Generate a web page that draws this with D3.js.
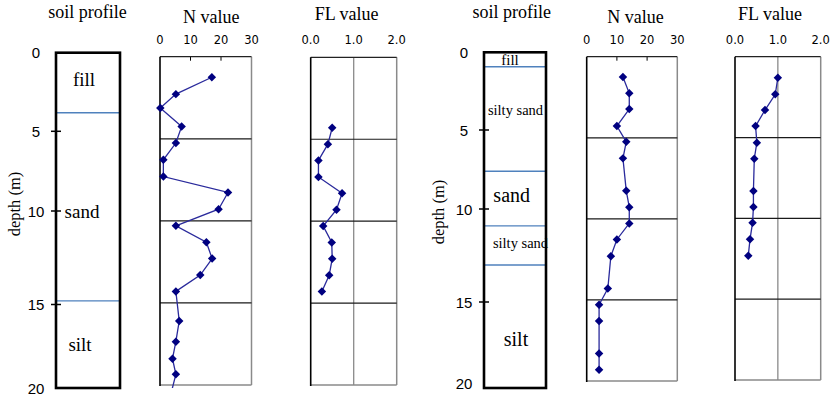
<!DOCTYPE html>
<html><head><meta charset="utf-8">
<script src="https://cdn.jsdelivr.net/npm/d3@7"></script>
<style>body{margin:0;background:#fff}svg{display:block}</style>
</head><body>
<svg id="c" width="830" height="395"></svg>
<script>
// ---------- DATA ----------
const depthTicks = [0, 5, 10, 15, 20];
const nTicks = [0, 10, 20, 30];
const flTicks = [0, 1, 2];
const flTickLabels = ["0.0", "1.0", "2.0"];
const titles = ["soil profile", "N value", "FL value"];
const depthLabel = "depth (m)";

// left site soil profile
const leftLayerNames = ["fill", "sand", "silt"];
const leftLayerLabelDepths = [1.7, 10.0, 17.4];
const leftBoundaries = [3.82, 14.81];
// right site soil profile
const rightLayerNames = ["fill", "silty sand", "sand", "silty sand", "silt"];
const rightLayerLabelDepths = [0.5, 3.7, 9.1, 11.83, 17.3];
const rightBoundaries = [0.93, 7.61, 10.91, 13.01];

// left site N value
const leftNDepth = [1.25, 2.28, 3.13, 4.25, 5.26, 6.28, 7.3, 8.27, 9.29, 10.3, 11.3, 12.3, 13.3, 14.3, 16.1, 17.36, 18.4, 19.35, 20.6];
const leftNValue = [17.0, 5.2, 0.1, 7.1, 5.2, 1.1, 1.1, 22.3, 19.2, 5.2, 15.2, 17.1, 13.2, 5.2, 6.3, 5.2, 4.1, 5.2, 3.5];
// left site FL value
const leftFLDepth = [4.3, 5.3, 6.3, 7.3, 8.3, 9.3, 10.3, 11.3, 12.3, 13.3, 14.3];
const leftFLValue = [0.50, 0.40, 0.18, 0.18, 0.73, 0.60, 0.29, 0.49, 0.50, 0.43, 0.26];
// right site N value
const rightNDepth = [1.25, 2.26, 3.23, 4.28, 5.25, 6.27, 8.27, 9.28, 10.28, 11.27, 12.3, 14.3, 15.3, 16.3, 18.3, 19.3];
const rightNValue = [12.0, 14.1, 14.1, 10.0, 13.1, 12.0, 13.1, 14.1, 14.1, 10.0, 8.0, 7.0, 4.1, 4.1, 4.1, 4.1];
// right site FL value
const rightFLDepth = [1.3, 2.33, 3.3, 4.29, 5.32, 6.31, 8.31, 9.3, 10.27, 11.3, 12.31];
const rightFLValue = [1.00, 0.94, 0.70, 0.48, 0.51, 0.45, 0.43, 0.43, 0.41, 0.35, 0.31];

// ---------- DRAWING ----------
const svg = d3.select("#c");
const serif = "'Liberation Serif','Times New Roman',serif";
const sans = "'Liberation Sans',Arial,sans-serif";
const boundaryColor = "#4f81bd";

function profile(cfg, names, labelDepths, boundaries) {
  const y = d3.scaleLinear().domain(depthTicks).range(cfg.yRange);
  const g = svg.append("g");
  g.append("text").attr("x", cfg.titleX).attr("y", 17.5).attr("text-anchor", "middle")
    .style("font-family", serif).style("font-size", "18px").text(titles[0]);
  g.append("text").attr("transform", `translate(${cfg.depthX},${cfg.depthY}) rotate(-90)`)
    .attr("text-anchor", "middle").attr("dominant-baseline", "central")
    .style("font-family", serif).style("font-size", "16.5px").text(depthLabel);
  g.selectAll("text.tl").data(depthTicks).join("text").attr("class", "tl")
    .attr("x", cfg.tickLabelX).attr("y", d => y(d)).attr("text-anchor", "middle")
    .attr("dominant-baseline", "central")
    .style("font-family", sans).style("font-size", "15px").text(d => d);
  g.selectAll("text.ll").data(names).join("text").attr("class", "ll")
    .attr("x", (d, i) => cfg.box[0] + cfg.labelX[i]).attr("y", (d, i) => y(labelDepths[i]))
    .attr("text-anchor", "middle").attr("dominant-baseline", "central")
    .style("font-family", serif).style("font-size", (d, i) => cfg.labelSize[i] + "px").text(d => d);
  g.selectAll("line.b").data(boundaries).join("line").attr("class", "b")
    .attr("x1", cfg.box[0]).attr("x2", cfg.box[1]).attr("y1", d => y(d)).attr("y2", d => y(d))
    .attr("stroke", boundaryColor).attr("stroke-width", 1.3);
  g.append("rect").attr("x", cfg.box[0]).attr("y", y(0))
    .attr("width", cfg.box[1] - cfg.box[0]).attr("height", cfg.boxBottom - y(0))
    .attr("fill", "none").attr("stroke", "#000").attr("stroke-width", 2.6);
  g.selectAll("line.t").data(depthTicks.filter(d => d > 0 && d < 20)).join("line").attr("class", "t")
    .attr("x1", cfg.box[0] - 5).attr("x2", cfg.box[0] + 5).attr("y1", d => y(d)).attr("y2", d => y(d))
    .attr("stroke", "#000").attr("stroke-width", 1.5);
}

function dataPanel(cfg, ticks, tickLabels, title, depth, values) {
  const x = d3.scaleLinear().domain([ticks[0], ticks[ticks.length - 1]]).range(cfg.xRange);
  const y = d3.scaleLinear().domain([0, 20]).range(cfg.yRange);
  const g = svg.append("g");
  const [x0, x1] = cfg.xRange, [y0, y1] = cfg.yRange;
  g.append("text").attr("x", cfg.titleX).attr("y", cfg.titleY).attr("text-anchor", "middle")
    .style("font-family", serif).style("font-size", "18px").text(title);
  g.selectAll("text.tk").data(ticks).join("text").attr("class", "tk")
    .attr("x", d => x(d)).attr("y", 44).attr("text-anchor", "middle")
    .style("font-family", "'DejaVu Sans',sans-serif").style("font-size", "11.5px")
    .text((d, i) => tickLabels[i]);
  ticks.slice(1, -1).forEach(t => {
    if (cfg.grid) {
      g.append("line").attr("x1", x(t)).attr("x2", x(t)).attr("y1", y0).attr("y2", y1)
        .attr("stroke", "#8a8a8a").attr("stroke-width", 1.3);
    } else {
      g.append("line").attr("x1", x(t)).attr("x2", x(t)).attr("y1", y0).attr("y2", y0 + 4)
        .attr("stroke", "#000").attr("stroke-width", 1);
    }
  });
  g.append("line").attr("x1", x1).attr("x2", x1).attr("y1", y0).attr("y2", y1)
    .attr("stroke", "#8a8a8a").attr("stroke-width", 1.5);
  g.append("line").attr("x1", x0).attr("x2", x1).attr("y1", y1).attr("y2", y1)
    .attr("stroke", "#8a8a8a").attr("stroke-width", 1.5);
  g.selectAll("line.h").data(depthTicks.filter(d => d > 0 && d < 20)).join("line").attr("class", "h")
    .attr("x1", x0).attr("x2", x1).attr("y1", d => y(d)).attr("y2", d => y(d))
    .attr("stroke", "#1a1a1a").attr("stroke-width", 1.2);
  g.append("line").attr("x1", x0).attr("x2", x1).attr("y1", y0).attr("y2", y0)
    .attr("stroke", "#222").attr("stroke-width", 1.3);
  g.append("line").attr("x1", x0).attr("x2", x0).attr("y1", y0).attr("y2", y1 + 1)
    .attr("stroke", "#000").attr("stroke-width", 1.6);
  const pts = depth.map((d, i) => [x(values[i]), y(d)]);
  const clipId = "clip" + Math.round(x0);
  svg.append("clipPath").attr("id", clipId).append("rect")
    .attr("x", 0).attr("y", 0).attr("width", 830).attr("height", cfg.clipBottom);
  const dg = g.append("g").attr("clip-path", `url(#${clipId})`);
  dg.append("path").attr("d", d3.line()(pts)).attr("fill", "none")
    .attr("stroke", "#2a2a9c").attr("stroke-width", 1.3);
  dg.selectAll("path.m").data(pts).join("path").attr("class", "m")
    .attr("transform", d => `translate(${d[0]},${d[1]}) rotate(45)`)
    .attr("d", d3.symbol(d3.symbolSquare, 36)).attr("fill", "#000080");
}

// left site
profile({ titleX: 87.5, depthX: 14, depthY: 204, tickLabelX: 36,
  yRange: [52.7, 131.3, 211, 304.5, 388], boxBottom: 388, box: [56, 120],
  labelX: [28, 26, 24], labelSize: [19, 19, 19] },
  leftLayerNames, leftLayerLabelDepths, leftBoundaries);
dataPanel({ xRange: [160, 251.5], yRange: [56.7, 385], titleX: 211.3, titleY: 23, grid: false, clipBottom: 388 },
  nTicks, nTicks.map(String), titles[1], leftNDepth, leftNValue);
dataPanel({ xRange: [310.7, 396.7], yRange: [57.3, 385], titleX: 346.7, titleY: 20, grid: true, clipBottom: 395 },
  flTicks, flTickLabels, titles[2], leftFLDepth, leftFLValue);

// right site
profile({ titleX: 511.7, depthX: 438, depthY: 212, tickLabelX: 464,
  yRange: [52.3, 130, 209, 302, 383], boxBottom: 388, box: [484, 546],
  labelX: [26, 31.5, 27.7, 36.5, 32], labelSize: [15, 14.5, 20, 14.5, 20] },
  rightLayerNames, rightLayerLabelDepths, rightBoundaries);
dataPanel({ xRange: [586.7, 677.3], yRange: [56.7, 381], titleX: 635.5, titleY: 23, grid: false, clipBottom: 395 },
  nTicks, nTicks.map(String), titles[1], rightNDepth, rightNValue);
dataPanel({ xRange: [735, 820.7], yRange: [56.7, 380], titleX: 770, titleY: 20, grid: true, clipBottom: 395 },
  flTicks, flTickLabels, titles[2], rightFLDepth, rightFLValue);
</script>
</body></html>
